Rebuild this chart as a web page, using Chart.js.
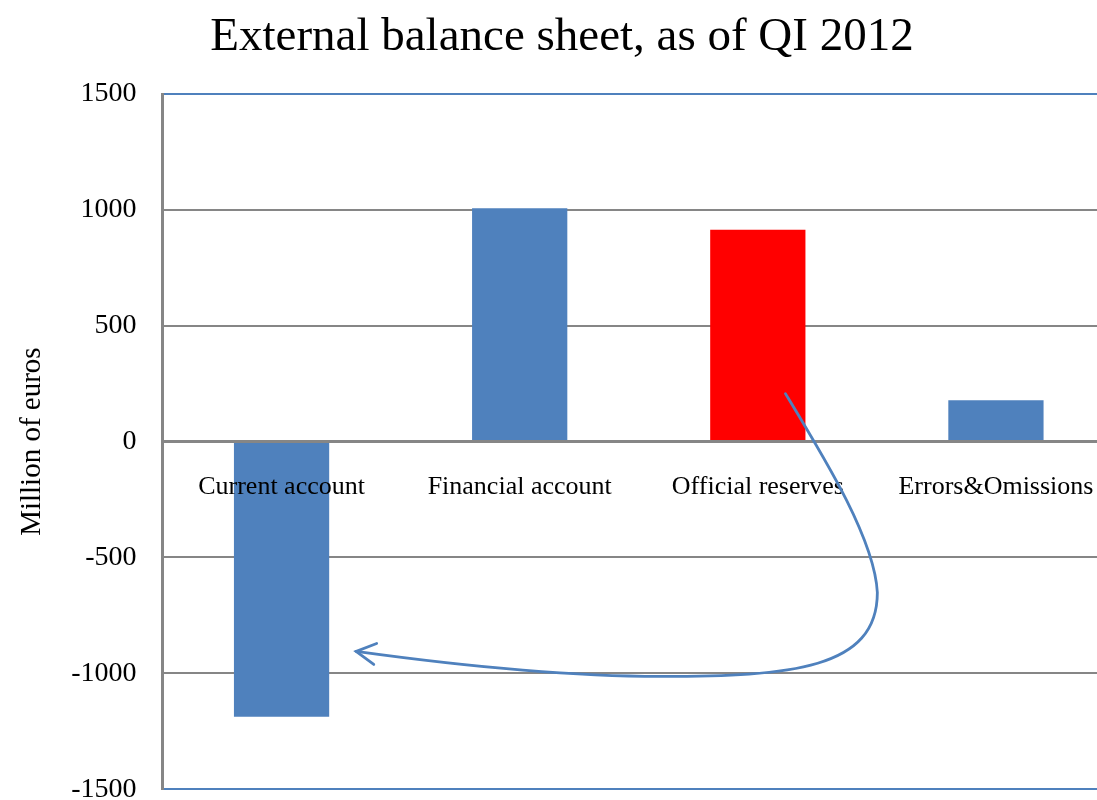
<!DOCTYPE html>
<html>
<head>
<meta charset="utf-8">
<title>External balance sheet</title>
<script src="https://cdn.jsdelivr.net/npm/chart.js@4"></script>
<style>
	html, body { margin: 0; padding: 0; overflow: hidden; background: #fff; }
	#wrap { position: absolute; left: 0; top: 0; width: 1115px; height: 832px; }
</style>
</head>
<body>
<div id="wrap"><canvas id="barChart"></canvas></div>
<script>
const categories = ['Current account', 'Financial account', 'Official reserves', 'Errors&Omissions'];
const balances = [-1187, 1007, 914, 178];
const barColors = ['#4F81BD', '#4F81BD', '#FF0000', '#4F81BD'];
const yTicks = [-1500, -1000, -500, 0, 500, 1000, 1500];

// curved arrow from the reserves bar back to the current account, in [category index, value]
const arrowStart = [2.116, 207];
const arrowCurves = [
	[[2.284, -78], [2.490, -422], [2.502, -651]],
	[[2.502, -983], [2.137, -1013], [1.590, -1013]],
	[[1.170, -1013], [0.708, -961], [0.313, -905]],
];

const serif = '"Liberation Serif", "Times New Roman", serif';
const grey = '#868686';
const blue = '#4F81BD';

const arrowPlugin = {
	id: 'arrow',
	afterDraw(chart) {
		const { ctx } = chart;
		const xs = chart.scales.x;
		const ys = chart.scales.y;
		const px = p => [xs.getPixelForValue(p[0]), ys.getPixelForValue(p[1])];

		ctx.save();
		ctx.strokeStyle = blue;
		ctx.lineWidth = 2.8;
		ctx.lineCap = 'round';
		ctx.beginPath();
		ctx.moveTo(...px(arrowStart));
		arrowCurves.forEach(seg => {
			const [c1, c2, end] = seg.map(px);
			ctx.bezierCurveTo(c1[0], c1[1], c2[0], c2[1], end[0], end[1]);
		});
		ctx.stroke();

		// open arrow head at the end of the last curve
		const last = arrowCurves[arrowCurves.length - 1];
		const tip = px(last[2]);
		const back = px(last[1]);
		const angle = Math.atan2(back[1] - tip[1], back[0] - tip[0]);
		const len = 22;
		const spread = 0.5;
		ctx.beginPath();
		ctx.moveTo(tip[0] + len * Math.cos(angle - spread), tip[1] + len * Math.sin(angle - spread));
		ctx.lineTo(tip[0], tip[1]);
		ctx.lineTo(tip[0] + len * Math.cos(angle + spread), tip[1] + len * Math.sin(angle + spread));
		ctx.stroke();
		ctx.restore();
	},
};

new Chart(document.querySelector('#barChart'), {
	type: 'bar',
	data: {
		labels: categories,
		datasets: [
			{
				label: 'Million of euros',
				data: balances,
				backgroundColor: barColors,
				borderWidth: 0,
				categoryPercentage: 1,
				barPercentage: 0.4,
			},
		],
	},
	options: {
		responsive: true,
		maintainAspectRatio: false,
		animation: false,
		layout: { padding: { left: 9, right: 0, top: 0, bottom: 0 } },
		plugins: {
			legend: { display: false },
			tooltip: { enabled: false },
			title: {
				display: true,
				text: 'External balance sheet, as of QI 2012',
				color: '#000',
				font: { family: serif, size: 47, weight: 'normal' },
				padding: { top: 9, bottom: 28.6 },
			},
		},
		scales: {
			x: {
				position: { y: 0 },
				// labels sit well inside the plot, so no side padding is needed
				afterFit: scale => {
					scale.paddingLeft = 0;
					scale.paddingRight = 0;
				},
				grid: { display: false, drawTicks: false },
				border: { display: true, color: grey, width: 3 },
				ticks: {
					z: 1,
					color: '#000',
					font: { family: serif, size: 26 },
					padding: 30,
					maxRotation: 0,
				},
			},
			y: {
				min: -1500,
				max: 1500,
				afterFit: scale => { scale.width = 153.5; },
				afterBuildTicks: scale => { scale.ticks = yTicks.map(value => ({ value })); },
				grid: {
					drawTicks: false,
					color: c => (Math.abs(c.tick.value) === 1500 ? blue : grey),
					lineWidth: c => (c.tick.value === 0 ? 3 : 2),
				},
				border: { display: true, color: grey, width: 3 },
				ticks: {
					color: '#000',
					font: { family: serif, size: 28 },
					padding: 26,
					callback: value => String(value),
				},
				title: {
					display: true,
					text: 'Million of euros',
					color: '#000',
					font: { family: serif, size: 29 },
					padding: { top: 6, bottom: 0 },
				},
			},
		},
	},
	plugins: [arrowPlugin],
});
</script>
</body>
</html>
